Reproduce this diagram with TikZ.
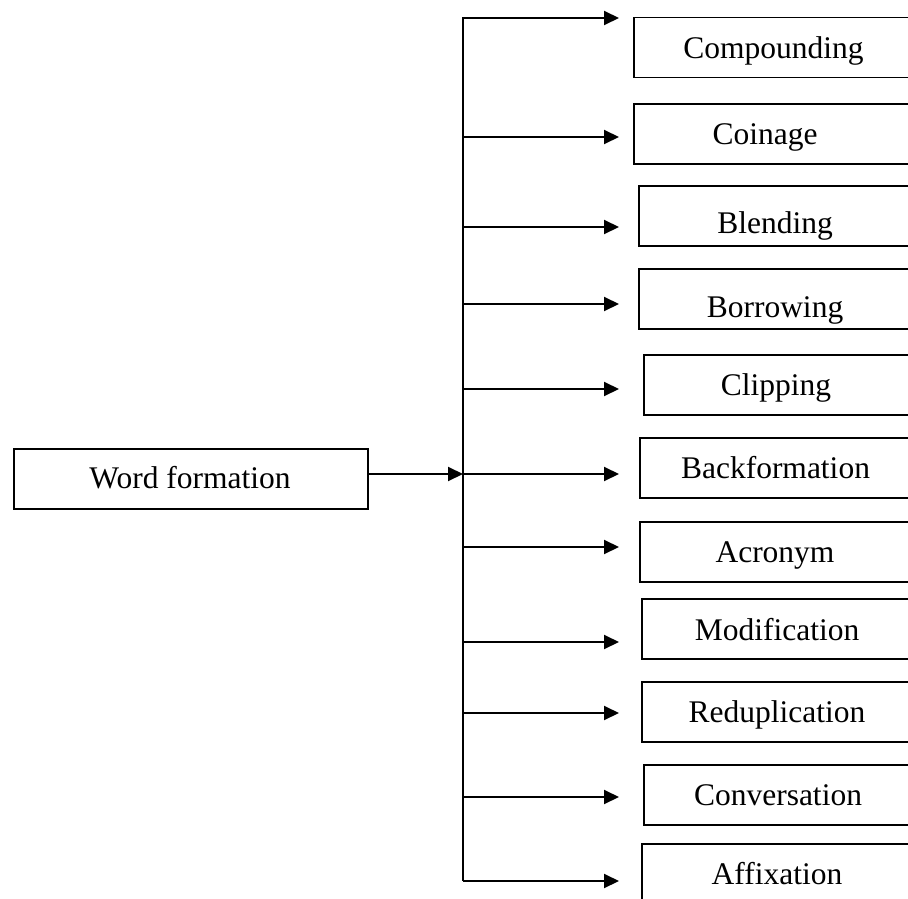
\documentclass[tikz,border=0pt]{standalone}
\usepackage{fontspec}
\setmainfont{Liberation Serif}
\usetikzlibrary{arrows.meta}
\begin{document}
\begin{tikzpicture}[x=1pt,y=-1pt,
  wbox/.style={draw,line width=1.5pt,rectangle,inner sep=0pt,anchor=north west,minimum height=60pt},
  lbl/.style={anchor=base,inner sep=0pt,font=\fontsize{31.5}{36}\selectfont},
  conn/.style={line width=2pt},
  arr/.style={conn,-{Triangle[length=15pt,width=14pt]}}]
\clip (0,0) rectangle (908,899);
\fill[white] (0,0) rectangle (908,899);
% source
\node[wbox,minimum width=354pt] (wf) at (13,448) {};
\node[lbl] (wft) at (190,488) {Word formation};
% target boxes
\node[wbox,minimum width=290pt] (cmp) at (633,17) {};
\node[lbl] at (773.5,59) {Compounding};
\node[wbox,minimum width=290pt] (coi) at (633,103) {};
\node[lbl] at (765,144) {Coinage};
\node[wbox,minimum width=285pt] (ble) at (638,185) {};
\node[lbl] at (775,233) {Blending};
\node[wbox,minimum width=285pt] (bor) at (638,268) {};
\node[lbl] at (775,317) {Borrowing};
\node[wbox,minimum width=280pt] (cli) at (643,354) {};
\node[lbl] at (776,395) {Clipping};
\node[wbox,minimum width=284pt] (bac) at (639,437) {};
\node[lbl] at (775.5,478) {Backformation};
\node[wbox,minimum width=284pt] (acr) at (639,521) {};
\node[lbl] at (775,562) {Acronym};
\node[wbox,minimum width=282pt] (mod) at (641,598) {};
\node[lbl] at (777,640) {Modification};
\node[wbox,minimum width=282pt] (red) at (641,681) {};
\node[lbl] at (777,722) {Reduplication};
\node[wbox,minimum width=280pt] (con) at (643,764) {};
\node[lbl] at (778,805) {Conversation};
\node[wbox,minimum width=282pt] (aff) at (641,843) {};
\node[lbl] at (777,884) {Affixation};
% trunk coordinates
\foreach \n/\y in {1/18,2/137,3/227,4/304,5/389,6/474,7/547,8/642,9/713,10/797,11/881}{
  \coordinate (v\n) at (463,\y);
  \coordinate (t\n) at (619,\y);
}
\draw[arr] (v11) -- (v1) -- (t1);
\foreach \n in {2,...,11}{\draw[arr] (v\n) -- (t\n);}
\draw[arr] (wf.east |- v6) -- (v6);
\end{tikzpicture}
\end{document}
